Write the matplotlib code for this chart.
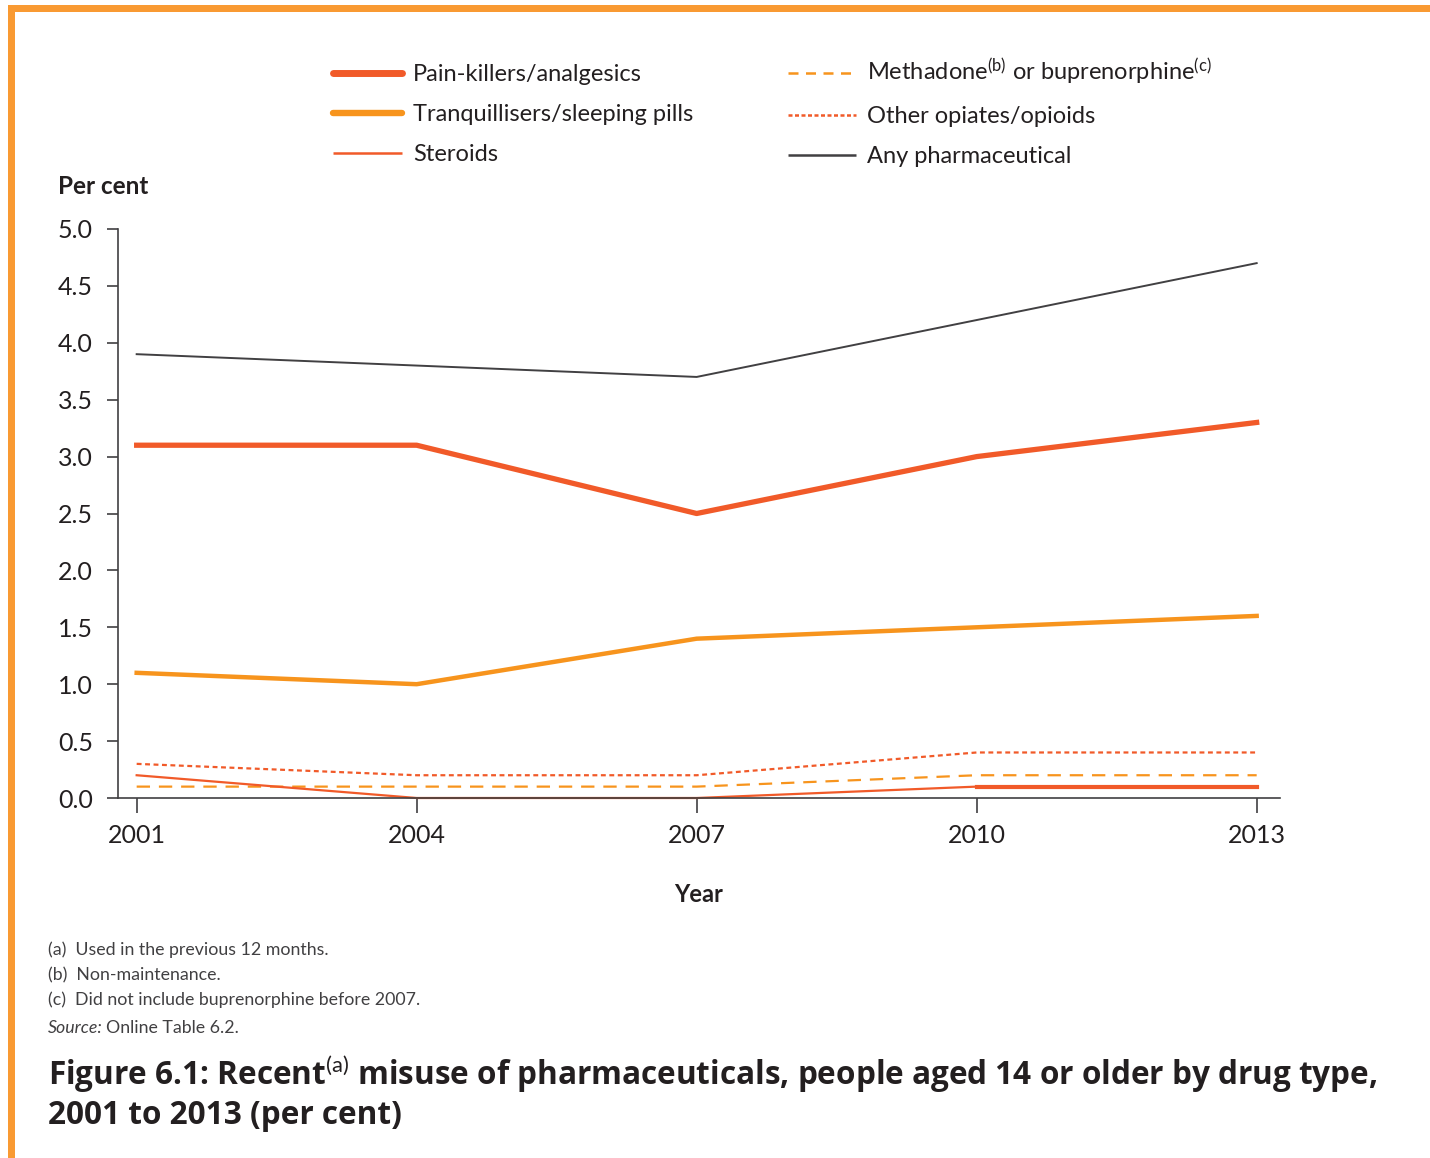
import matplotlib.pyplot as plt
from matplotlib.patches import Rectangle
from matplotlib.lines import Line2D

plt.rcParams.update({"font.family": ["Lato", "DejaVu Sans"],
                     "mathtext.fontset": "custom",
                     "mathtext.rm": "Lato",
                     "mathtext.it": "Lato:italic",
                     "mathtext.bf": "Lato:bold"})

# data
years = [2001, 2004, 2007, 2010, 2013]
pain_killers = [3.1, 3.1, 2.5, 3.0, 3.3]
tranquillisers = [1.1, 1.0, 1.4, 1.5, 1.6]
steroids = [0.2, 0.0, 0.0, 0.1, 0.1]
methadone = [0.1, 0.1, 0.1, 0.2, 0.2]
other_opiates = [0.3, 0.2, 0.2, 0.4, 0.4]
any_pharma = [3.9, 3.8, 3.7, 4.2, 4.7]
y_ticks = [0.0, 0.5, 1.0, 1.5, 2.0, 2.5, 3.0, 3.5, 4.0, 4.5, 5.0]

RED = "#F15A29"
ORANGE = "#F7941D"
GREY = "#414042"
TXT = "#231F20"

W, H = 1430, 1158
fig = plt.figure(figsize=(W / 100, H / 100), dpi=100)
ax = fig.add_axes([118 / W, 1 - 798 / H, (1280 - 118) / W, (798 - 229) / H])

ax.plot(years, any_pharma, color=GREY, lw=1.4, label="Any pharmaceutical")
ax.plot(years, pain_killers, color=RED, lw=3.8, label="Pain-killers/analgesics")
ax.plot(years, tranquillisers, color=ORANGE, lw=3.2, label="Tranquillisers/sleeping pills")
ax.plot(years, other_opiates, color=RED, lw=1.6, ls=(0, (2.2, 1.6)),
        label="Other opiates/opioids")
ax.plot(years, methadone, color=ORANGE, lw=1.6, ls=(0, (6, 4)),
        label="Methadone$^{\\mathrm{(b)}}$ or buprenorphine$^{\\mathrm{(c)}}$")
ax.plot(years, steroids, color=RED, lw=1.6, label="Steroids", clip_on=False)
# thicker segment at 2010-2013 as in the original
ax.plot(years[3:], steroids[3:], color=RED, lw=3.0)

ax.set_xlim(2000.8, 2013.25)
ax.set_ylim(0, 5.0)
ax.set_xticks(years)
ax.set_xticklabels([str(y) for y in years])
ax.set_yticks(y_ticks)
ax.set_yticklabels([f"{v:.1f}" for v in y_ticks])
for s in ["top", "right"]:
    ax.spines[s].set_visible(False)
for s in ["left", "bottom"]:
    ax.spines[s].set_color(GREY)
    ax.spines[s].set_linewidth(1.2)
ax.tick_params(axis="y", direction="out", length=8, width=1.2, color=GREY,
               labelsize=18, labelcolor=TXT, pad=10)
ax.tick_params(axis="x", direction="out", length=11, width=1.2, color=GREY,
               labelsize=18, labelcolor=TXT, pad=7.5)

ax.set_xlabel("Year", fontsize=17, fontweight="bold", color=TXT, labelpad=26)
fig.text(58 / W, 1 - 186 / H, "Per cent", fontsize=17.5, fontweight="bold",
         color=TXT, va="center")

# legend
h = {l.get_label(): l for l in ax.get_lines()}
order = ["Pain-killers/analgesics", "Tranquillisers/sleeping pills", "Steroids",
         "Methadone$^{\\mathrm{(b)}}$ or buprenorphine$^{\\mathrm{(c)}}$",
         "Other opiates/opioids", "Any pharmaceutical"]
handles = []
for name in order:
    ln = h[name]
    lw = {"Pain-killers/analgesics": 5.0, "Tranquillisers/sleeping pills": 4.6}.get(name, 1.8)
    handles.append(Line2D([], [], color=ln.get_color(), lw=lw, ls=ln.get_linestyle(),
                          solid_capstyle="round" if lw > 4 else "butt"))
handles[3].set_dashes((4, 3))
handles[4].set_dashes((1.6, 1.0))
leg = fig.legend(handles, order, ncol=2, loc="upper left",
                 bbox_to_anchor=(312 / W, 1 - 36 / H), frameon=False,
                 fontsize=17, handlelength=2.9, handletextpad=0.47,
                 columnspacing=4.0, labelspacing=0.8)
for t in leg.get_texts():
    t.set_color(TXT)

# footnotes
notes = ["(a)  Used in the previous 12 months.",
         "(b)  Non-maintenance.",
         "(c)  Did not include buprenorphine before 2007."]
NOTE = "#414042"
for i, n in enumerate(notes):
    fig.text(48 / W, 1 - (950 + 25 * i) / H, n, fontsize=12.8, color=NOTE,
             va="center")
src = fig.text(48 / W, 1 - 1028 / H, "Source:", fontsize=12.8, style="italic",
               color=NOTE, va="center")
fig.canvas.draw()
bb = src.get_window_extent()
fig.text(bb.x1 / W + 3 / W, 1 - 1028 / H, "Online Table 6.2.", fontsize=12.8,
         color=NOTE, va="center")

tfont = ["Open Sans", "DejaVu Sans"]
fig.text(48 / W, 1 - 1074 / H,
         "Figure 6.1: Recent$^{\\mathrm{(a)}}$ misuse of pharmaceuticals, people aged 14 or older by drug type,",
         fontsize=22.7, fontweight="bold", color=TXT, va="center", family=tfont)
fig.text(48 / W, 1 - 1115 / H, "2001 to 2013 (per cent)",
         fontsize=22.7, fontweight="bold", color=TXT, va="center", family=tfont)

# orange frame
FRAME = "#F99A32"
fig.patches.append(Rectangle((8 / W, 0), 7 / W, 1 - 5 / H, transform=fig.transFigure,
                             color=FRAME, lw=0))
fig.patches.append(Rectangle((8 / W, 1 - 12 / H), 1, 7 / H, transform=fig.transFigure,
                             color=FRAME, lw=0))

fig.savefig("out.png", dpi=100)
